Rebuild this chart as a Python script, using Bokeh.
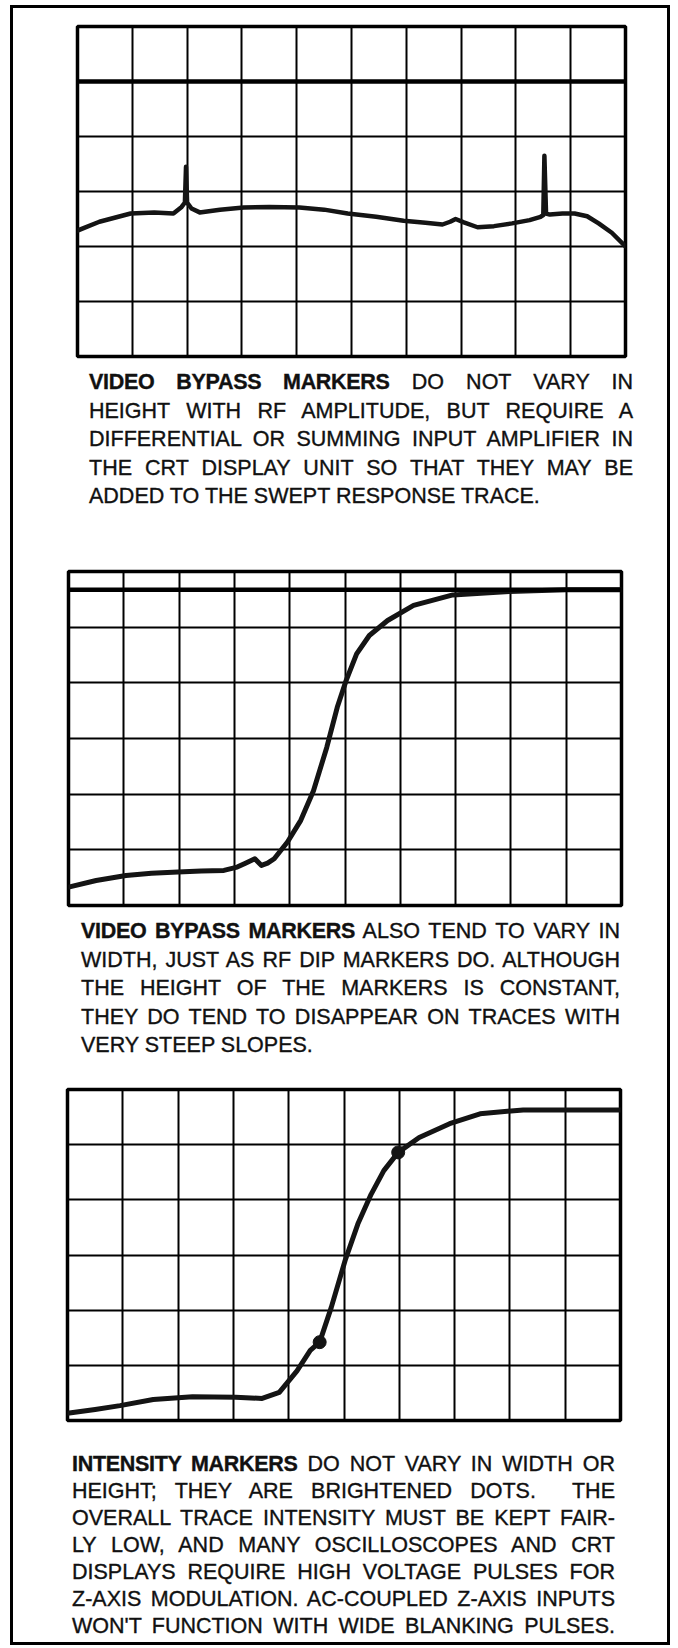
from bokeh.plotting import figure
from bokeh.models import Range1d, FixedTicker, Span, Div, Grid
from bokeh.layouts import column, row
from bokeh.embed import file_html
from bokeh.resources import INLINE

# ---------------- graticule (divisions) ----------------
x_divisions = 10
y_divisions = 6
grid_x_ticks = [1, 2, 3, 4, 5, 6, 7, 8, 9]
grid_y_ticks = [1, 2, 3, 4, 5]

# ---------------- panel 1: flat response with two video bypass spikes ----------------
trace1_x = [0.0, 0.4, 0.97, 1.4, 1.75, 1.9, 1.96, 1.98, 2.0, 2.08, 2.23, 2.6, 3.03, 3.5, 4.05,
            4.5, 4.93, 5.45, 5.95, 6.35, 6.66, 6.8, 6.9, 7.05, 7.3, 7.6, 7.93, 8.25, 8.45, 8.5,
            8.52, 8.55, 8.62, 8.85, 9.07, 9.3, 9.51, 9.75, 10.0]
trace1_y = [2.29, 2.45, 2.6, 2.62, 2.6, 2.72, 2.8, 3.45, 2.8, 2.69, 2.62, 2.67, 2.71, 2.72, 2.71,
            2.67, 2.6, 2.54, 2.47, 2.43, 2.4, 2.45, 2.5, 2.44, 2.35, 2.37, 2.42, 2.48, 2.54, 2.57,
            3.65, 2.6, 2.58, 2.6, 2.6, 2.55, 2.42, 2.25, 2.0]
ref1_level = 5.0

# ---------------- panel 2: steep slope, bypass marker near foot ----------------
trace2_x = [0.0, 0.5, 1.04, 1.5, 1.98, 2.4, 2.81, 3.05, 3.2, 3.37, 3.49, 3.6, 3.72, 3.96, 4.2,
            4.43, 4.67, 4.86, 5.02, 5.21, 5.44, 5.77, 6.24, 6.95, 7.97, 9.0, 10.0]
trace2_y = [0.33, 0.45, 0.54, 0.58, 0.6, 0.62, 0.63, 0.69, 0.76, 0.84, 0.72, 0.76, 0.84, 1.14, 1.53,
            2.06, 2.84, 3.56, 4.04, 4.52, 4.85, 5.12, 5.39, 5.58, 5.64, 5.67, 5.67]
ref2_level = 5.67

# ---------------- panel 3: intensity markers (brightened dots) ----------------
trace3_x = [0.0, 0.5, 0.95, 1.55, 2.26, 3.04, 3.52, 3.83, 4.15, 4.39, 4.56, 4.77, 5.02, 5.25,
            5.49, 5.72, 5.98, 6.36, 6.91, 7.46, 8.24, 9.04, 10.0]
trace3_y = [0.13, 0.2, 0.27, 0.38, 0.43, 0.42, 0.4, 0.51, 0.9, 1.27, 1.42, 2.05, 2.9, 3.56,
            4.1, 4.53, 4.86, 5.13, 5.38, 5.56, 5.63, 5.63, 5.63]
marker3_x = [4.56, 5.98]
marker3_y = [1.42, 4.86]

# ---------------- captions ----------------
caption1_lead = "VIDEO BYPASS MARKERS"
caption1_lines = [
    "VIDEO BYPASS MARKERS DO NOT VARY IN",
    "HEIGHT WITH RF AMPLITUDE, BUT REQUIRE A",
    "DIFFERENTIAL OR SUMMING INPUT AMPLIFIER IN",
    "THE CRT DISPLAY UNIT SO THAT THEY MAY BE",
    "ADDED TO THE SWEPT RESPONSE TRACE.",
]
caption1_justify = [True, True, True, True, False]

caption2_lead = "VIDEO BYPASS MARKERS"
caption2_lines = [
    "VIDEO BYPASS MARKERS ALSO TEND TO VARY IN",
    "WIDTH, JUST AS RF DIP MARKERS DO. ALTHOUGH",
    "THE HEIGHT OF THE MARKERS IS CONSTANT,",
    "THEY DO TEND TO DISAPPEAR ON TRACES WITH",
    "VERY STEEP SLOPES.",
]
caption2_justify = [True, True, True, True, False]

caption3_lead = "INTENSITY MARKERS"
caption3_lines = [
    "INTENSITY MARKERS DO NOT VARY IN WIDTH OR",
    "HEIGHT; THEY ARE BRIGHTENED DOTS.  THE",
    "OVERALL TRACE INTENSITY MUST BE KEPT FAIR-",
    "LY LOW, AND MANY OSCILLOSCOPES AND CRT",
    "DISPLAYS REQUIRE HIGH VOLTAGE PULSES FOR",
    "Z-AXIS MODULATION. AC-COUPLED Z-AXIS INPUTS",
    "WON'T FUNCTION WITH WIDE BLANKING PULSES.",
]
caption3_justify = [True, True, True, True, True, True, True]

INNER_W = 654
INK = "#141414"


def make_panel(height, left, right, top, bottom):
    p = figure(width=INNER_W, height=height,
               x_range=Range1d(0, x_divisions), y_range=Range1d(0, y_divisions),
               x_axis_type=None, y_axis_type=None,
               output_backend="svg", toolbar_location=None,
               min_border_left=left, min_border_right=right,
               min_border_top=top, min_border_bottom=bottom)
    p.add_layout(Grid(dimension=0, ticker=FixedTicker(ticks=grid_x_ticks),
                      grid_line_color="black", grid_line_width=2))
    p.add_layout(Grid(dimension=1, ticker=FixedTicker(ticks=grid_y_ticks),
                      grid_line_color="black", grid_line_width=2))
    p.outline_line_color = "black"
    p.outline_line_width = 3.5
    p.outline_line_alpha = 1.0
    p.background_fill_color = "white"
    p.border_fill_color = "white"
    return p


def make_caption(lines, lead, justify, height, pad_left, text_w, pad_top, line_h):
    rows = []
    for i, line in enumerate(lines):
        txt = line
        if i == 0 and line.startswith(lead):
            txt = ("<span style=\"font-family:'Liberation Sans Narrow','Liberation Sans',sans-serif;"
                   "font-weight:bold;letter-spacing:-0.3px;\">" + lead + "</span>" + line[len(lead):])
        align = "justify" if justify[i] else "left"
        rows.append(f"<div style=\"text-align:{align};text-align-last:{align};height:{line_h}px;"
                    f"line-height:{line_h}px;white-space:pre-wrap;\">{txt}</div>")
    html = (f"<div style=\"box-sizing:content-box;margin-left:{pad_left}px;padding-top:{pad_top}px;"
            f"width:{text_w}px;"
            "font-family:'Liberation Sans',sans-serif;font-size:21.5px;color:#111;"
            "-webkit-text-stroke:0.35px #111;\">" + "".join(rows) + "</div>")
    return Div(text=html, width=INNER_W, height=height, margin=(0, 0, 0, 0))


p1 = make_panel(355, 64, 42, 18, 7)
p1.add_layout(Span(location=ref1_level, dimension="width", line_color="black", line_width=4.5))
p1.line(trace1_x, trace1_y, line_width=4.5, line_color=INK, line_join="round", line_cap="round")

d1 = make_caption(caption1_lines, caption1_lead, caption1_justify, 192, 76, 544, 5, 28.6)

p2 = make_panel(358, 55, 46, 16, 8)
p2.add_layout(Span(location=ref2_level, dimension="width", line_color="black", line_width=4.5))
p2.line(trace2_x, trace2_y, line_width=5, line_color=INK, line_join="round", line_cap="round")

d2 = make_caption(caption2_lines, caption2_lead, caption2_justify, 162, 68, 539, 4, 28.5)

p3 = make_panel(353, 54, 47, 14, 8)
p3.line(trace3_x, trace3_y, line_width=5, line_color=INK, line_join="round", line_cap="round")
p3.scatter(marker3_x, marker3_y, size=13, fill_color=INK, line_color=INK)

d3 = make_caption(caption3_lines, caption3_lead, caption3_justify, 214, 59, 543, 23, 27)

# each plot in its own row so that the column does not align their frames
r1 = row(p1, width=INNER_W, height=355)
r2 = row(p2, width=INNER_W, height=358)
r3 = row(p3, width=INNER_W, height=353)

layout = column(r1, d1, r2, d2, r3, d3, width=660, height=1640, margin=(5, 0, 0, 10),
                styles={"border": "3px solid black", "box-sizing": "border-box"})

open("out.html", "w").write(file_html(layout, INLINE))
